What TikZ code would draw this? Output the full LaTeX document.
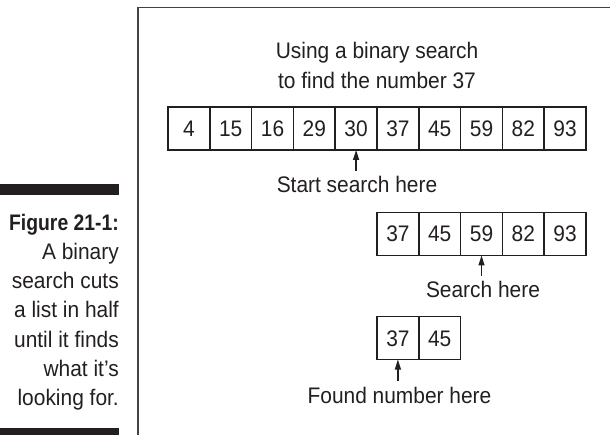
\documentclass[tikz,border=0pt]{standalone}
\usepackage{fontspec}
\setmainfont[FakeStretch=0.93, BoldFeatures={FakeStretch=0.86}]{Liberation Sans}
\usetikzlibrary{arrows.meta}
\definecolor{ink}{HTML}{231F20}
\tikzset{
  cell/.style={draw=ink, line width=1.6pt, minimum width=41.8pt, minimum height=43pt, inner sep=0pt, outer sep=0pt, text height=16pt, text depth=0pt, text=ink, font=\fontsize{22.5}{29}\selectfont},
  lbl/.style={inner sep=5pt, text=ink, font=\fontsize{22.5}{29}\selectfont},
  arr/.style={draw=ink, line width=1.3pt, -{Stealth[length=10pt,width=6pt,inset=0pt]}},
  bar/.style={fill=ink}
}
\begin{document}
\begin{tikzpicture}[x=1pt,y=-1pt]
\useasboundingbox (0,0) rectangle (610,435);
% frame
\draw[draw=ink!85, line width=1.2pt] (138,436) -- (138,7.5) -- (611,7.5);
% caption bars
\fill[bar] (0,184) rectangle (119,195);
\fill[bar] (0,428) rectangle (119,436);
% caption
\node[anchor=north east, inner sep=0pt, align=right, text=ink, font=\fontsize{22.5}{29.3}\selectfont] (cap) at (119,213.5)
  {\textbf{Figure 21-1:}\\A binary\\search cuts\\a list in half\\until it finds\\what it’s\\looking for.};
% title
\node[anchor=north, inner sep=0pt, align=center, text=ink, font=\fontsize{22.5}{30}\selectfont] (title) at (377,42)
  {Using a binary search\\to find the number 37};
% row 1
\foreach \v [count=\i] in {4,15,16,29,30,37,45,59,82,93}
  \node[cell] (a\i) at ({168+41.8*(\i-0.5)},128.5) {\v};
% row 2
\foreach \v [count=\i] in {37,45,59,82,93}
  \node[cell] (b\i) at ({377+41.8*(\i-0.5)},234) {\v};
% row 3
\foreach \v [count=\i] in {37,45}
  \node[cell] (c\i) at ({377+41.8*(\i-0.5)},338) {\v};
% labels
\node[lbl, anchor=base] (s1) at (357,193) {Start search here};
\node[lbl, anchor=base] (s2) at (483,298) {Search here};
\node[lbl, anchor=base] (s3) at (399.5,403) {Found number here};
% arrows
\draw[arr] (a5.south |- s1.north) -- (a5.south);
\draw[arr] (b3.south |- s2.north) -- (b3.south);
\draw[arr] (c1.south |- s3.north) -- (c1.south);
\end{tikzpicture}
\end{document}
